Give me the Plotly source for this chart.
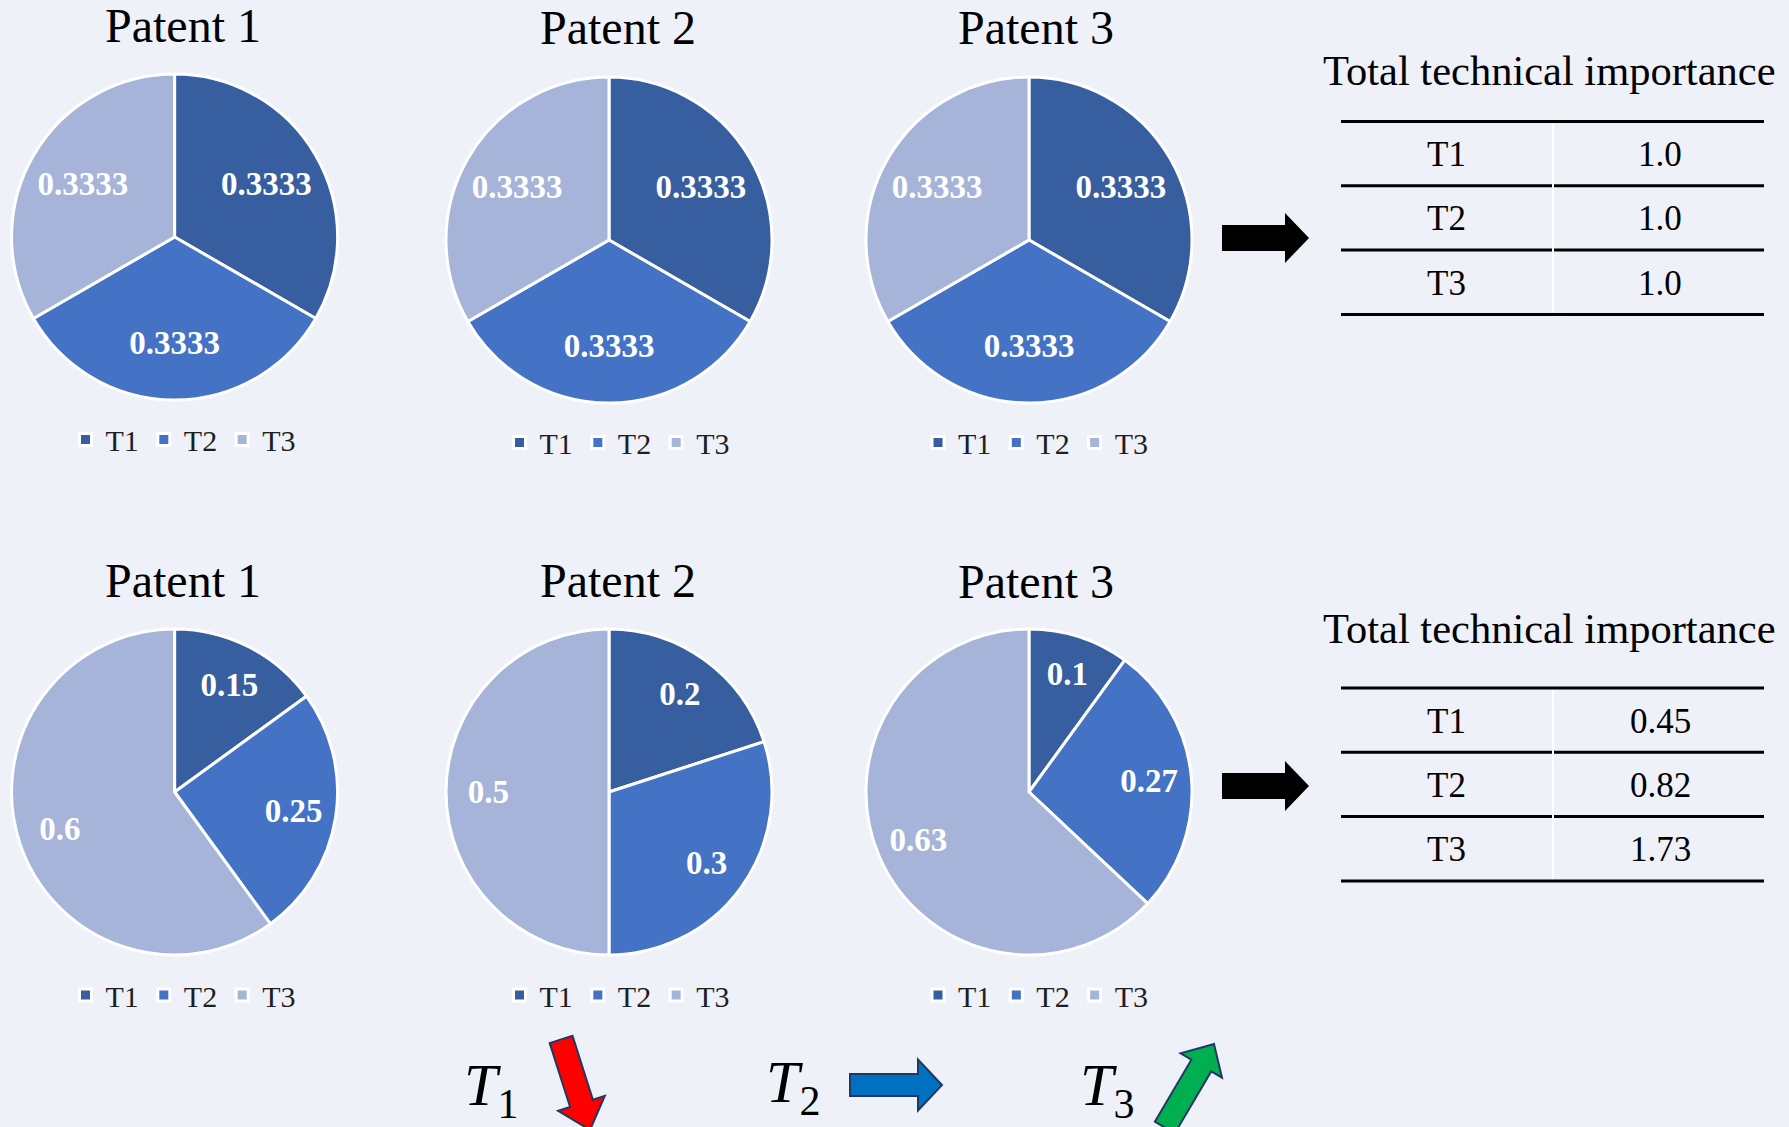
import math
import plotly.graph_objects as go

# ---------------- data ----------------
categories = ["T1", "T2", "T3"]
patent_titles = ["Patent 1", "Patent 2", "Patent 3"]

before_p1 = [0.3333, 0.3333, 0.3333]
before_p2 = [0.3333, 0.3333, 0.3333]
before_p3 = [0.3333, 0.3333, 0.3333]

after_p1 = [0.15, 0.25, 0.6]
after_p2 = [0.2, 0.3, 0.5]
after_p3 = [0.1, 0.27, 0.63]

table_title = "Total technical importance"
total_before = [1.0, 1.0, 1.0]
total_after = [0.45, 0.82, 1.73]

trend_labels = ["1", "2", "3"]

# ---------------- style / layout ----------------
W, H = 1789, 1127
BG = "#EEF1F8"
SLICE_COLORS = ["#375E9F", "#4472C4", "#A6B4DA"]
FONT = "Liberation Serif"
R = 163
pie_cx = [174.6, 609, 1029]
pie_cy_top = [237, 240, 240]
pie_cy_bot = [792, 792, 792]
title_x = [183, 618, 1036]
title_y_top = [25.5, 27, 27]
title_y_bot = [580, 580, 581]
legend_x = [183, 617, 1035.5]
legend_y_top = [439.5, 442.5, 442.5]
legend_y_bot = [995, 995, 995]

fig = go.Figure()


def dom(cx, cy):
    return dict(x=[(cx - R) / W, (cx + R) / W],
                y=[1 - (cy + R) / H, 1 - (cy - R) / H])


rows = [
    ([before_p1, before_p2, before_p3], pie_cy_top, 0.3, legend_y_top, title_y_top),
    ([after_p1, after_p2, after_p3], pie_cy_bot, 0.48, legend_y_bot, title_y_bot),
]

legend_idx = 0
layout_legends = {}
annotations = []
for values_row, cys, hole, ly, ty in rows:
    for i, vals in enumerate(values_row):
        legend_idx += 1
        lname = "legend" if legend_idx == 1 else f"legend{legend_idx}"
        d = dom(pie_cx[i], cys[i])
        fig.add_trace(go.Pie(
            labels=categories, values=vals, sort=False, direction="clockwise",
            rotation=0, domain=d, textinfo="none", hoverinfo="skip",
            marker=dict(colors=SLICE_COLORS, line=dict(color="white", width=3)),
            legend=lname, legendgroup=f"grp{legend_idx}", showlegend=True,
        ))
        # label layer (transparent ring so the library places values further out)
        fig.add_trace(go.Pie(
            labels=categories, values=vals, sort=False, direction="clockwise",
            rotation=0, domain=d, hole=hole, textinfo="value",
            textposition="inside", insidetextorientation="horizontal",
            textfont=dict(family=FONT, size=33, color="white", weight="bold"),
            marker=dict(colors=["rgba(0,0,0,0)"] * 3, line=dict(width=0)),
            hoverinfo="skip", showlegend=False, legendgroup=f"lbl{legend_idx}",
        ))
        layout_legends[lname] = dict(
            orientation="h", x=legend_x[i] / W, xanchor="center",
            y=1 - ly[i] / H, yanchor="middle", bgcolor="rgba(0,0,0,0)",
            font=dict(family=FONT, size=30, color="#1E1E1E"),
            traceorder="normal", itemclick=False, itemdoubleclick=False,
        )
        annotations.append(dict(
            x=title_x[i], y=ty[i], xref="x", yref="y", text=patent_titles[i],
            showarrow=False, xanchor="center", yanchor="middle",
            font=dict(family=FONT, size=48, color="black")))

# ---------------- tables ----------------
shapes = []
tables = [
    (total_before, "{:.1f}", 70, 121.5),
    (total_after, "{:.2f}", 628, 688),
]
ROW_H = 64.3
TX0, TX1, TSEP = 1341, 1764, 1553
COL1, COL2 = 1446, 1660
for totals, fmt, title_y, top in tables:
    annotations.append(dict(
        x=1549, y=title_y, xref="x", yref="y", text=table_title, showarrow=False,
        xanchor="center", yanchor="middle", font=dict(family=FONT, size=42.5, color="black")))
    for k in range(len(totals) + 1):
        yy = top + k * ROW_H
        shapes.append(dict(type="line", xref="x", yref="y", x0=TX0, x1=TX1, y0=yy, y1=yy,
                           line=dict(color="black", width=3), layer="above"))
    shapes.append(dict(type="line", xref="x", yref="y", x0=TSEP, x1=TSEP,
                       y0=top + 2, y1=top + len(totals) * ROW_H - 2,
                       line=dict(color="white", width=2), layer="above"))
    for k, (cat, v) in enumerate(zip(categories, totals)):
        yc = top + (k + 0.5) * ROW_H + 1
        annotations.append(dict(x=COL1, y=yc, xref="x", yref="y", text=cat, showarrow=False,
                                xanchor="center", yanchor="middle",
                                font=dict(family=FONT, size=35, color="black")))
        annotations.append(dict(x=COL2, y=yc, xref="x", yref="y", text=fmt.format(v),
                                showarrow=False, xanchor="center", yanchor="middle",
                                font=dict(family=FONT, size=35, color="black")))


# ---------------- block arrows ----------------
def block_arrow(tx, ty, ang_deg, length, shaft_hw, head_hw, head_len):
    """tip (tx,ty); ang = direction of travel in screen degrees (0=right, 90=down)."""
    a = math.radians(ang_deg)
    ux, uy = math.cos(a), math.sin(a)
    px, py = -uy, ux
    bx, by = tx - ux * head_len, ty - uy * head_len
    sx, sy = tx - ux * length, ty - uy * length
    pts = [
        (sx + px * shaft_hw, sy + py * shaft_hw),
        (bx + px * shaft_hw, by + py * shaft_hw),
        (bx + px * head_hw, by + py * head_hw),
        (tx, ty),
        (bx - px * head_hw, by - py * head_hw),
        (bx - px * shaft_hw, by - py * shaft_hw),
        (sx - px * shaft_hw, sy - py * shaft_hw),
    ]
    return "M " + " L ".join(f"{x:.1f},{y:.1f}" for x, y in pts) + " Z"


arrows = [
    (1309, 238, 0, 87, 13, 25, 24, "black", None),
    (1309, 786, 0, 87, 13, 25, 24, "black", None),
    (590, 1130, 72.3, 95, 12, 24.5, 28, "#FF0000", "#1F3864"),
    (942, 1085, 0, 92, 11, 25.5, 24, "#0070C0", "#1F3864"),
    (1214, 1044, -59.5, 97, 11.5, 24, 25, "#00B050", "#1F3864"),
]
for tx, ty, ang, ln, shw, hhw, hl, fill, edge in arrows:
    shapes.append(dict(
        type="path", xref="x", yref="y", path=block_arrow(tx, ty, ang, ln, shw, hhw, hl),
        fillcolor=fill, line=dict(color=edge if edge else fill, width=2 if edge else 0),
        layer="above"))

trend_pos = [(491, 1089), (793, 1086), (1107, 1089)]
for lab, (x, y) in zip(trend_labels, trend_pos):
    annotations.append(dict(
        x=x, y=y, xref="x", yref="y", text=f"<i>T</i><sub>{lab}</sub>", showarrow=False,
        xanchor="center", yanchor="middle", font=dict(family=FONT, size=60, color="black")))

fig.update_layout(
    width=W, height=H, margin=dict(l=0, r=0, t=0, b=0, pad=0),
    paper_bgcolor=BG, plot_bgcolor=BG,
    xaxis=dict(range=[0, W], visible=False, domain=[0, 1], fixedrange=True),
    yaxis=dict(range=[H, 0], visible=False, domain=[0, 1], fixedrange=True),
    annotations=annotations, shapes=shapes,
    **layout_legends,
)

fig.write_html("out.html")
